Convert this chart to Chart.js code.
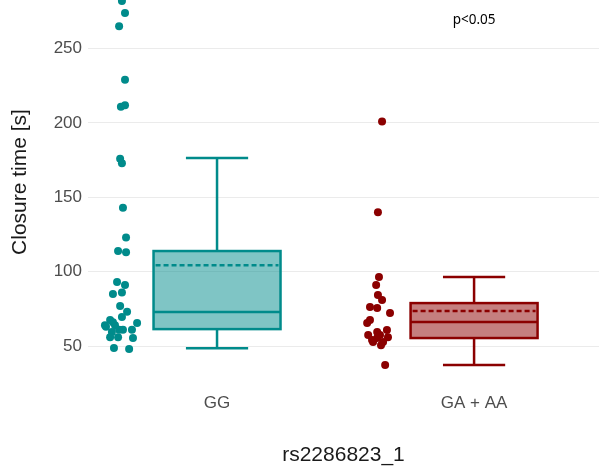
<!DOCTYPE html>
<html>
<head>
<meta charset="utf-8">
<script src="https://cdn.jsdelivr.net/npm/chart.js@4"></script>
<style>
  html, body { margin: 0; padding: 0; background: #ffffff; }
  canvas { display: block; }
</style>
</head>
<body>
<canvas id="chart" width="599" height="475"></canvas>
<script>
const CATEGORIES = ["GG", "GA + AA"];
const COLORS = ["#008b8b", "#8b0000"];
const FILLS = ["rgba(0, 139, 139, 0.5)", "rgba(139, 0, 0, 0.5)"];
const Y_TICKS = [50, 100, 150, 200, 250];

// box stats: lower whisker, q1, median, q3, upper whisker, mean
const BOX_LOW = [48.5, 37.2];
const BOX_Q1 = [61.4, 55.4];
const BOX_MEDIAN = [72.9, 66.1];
const BOX_Q3 = [113.9, 78.9];
const BOX_HIGH = [176.4, 96.4];
const BOX_MEAN = [104.3, 73.5];

// jittered points: value and horizontal offset from the category (in category units)
const GG_VALUES = [282, 274, 265, 229, 211, 212, 176, 173, 143, 123, 114, 113, 93, 91, 85, 86,
  77, 73, 69.5, 67.5, 64, 64, 65.5, 59.5, 61, 61, 56, 56, 55.4, 48.7, 48, 63, 61, 66];
const GG_JITTER = [-0.37, -0.358, -0.381, -0.358, -0.374, -0.358, -0.377, -0.37, -0.366, -0.354,
  -0.385, -0.354, -0.389, -0.358, -0.405, -0.37, -0.377, -0.35, -0.37, -0.416, -0.436, -0.397,
  -0.311, -0.409, -0.366, -0.331, -0.416, -0.385, -0.327, -0.401, -0.342, -0.432, -0.381, -0.405];
const GA_VALUES = [201, 140, 96.4, 91, 84.3, 80.9, 76.2, 75.6, 72.2, 67.5, 65.5, 59.4, 60.8,
  57.4, 57.4, 52.7, 52.7, 56, 55.4, 37.2, 54, 50.5];
const GA_JITTER = [-0.358, -0.374, -0.37, -0.381, -0.374, -0.358, -0.405, -0.377, -0.327, -0.405,
  -0.416, -0.377, -0.339, -0.412, -0.366, -0.393, -0.354, -0.335, -0.377, -0.346, -0.397, -0.362];

const P_TEXT = "p<0.05";
const P_AT = [2, 269];
const Y_TITLE = "Closure time [s]";

const BOX_HALF = 0.247;
const CAP_HALF = 0.121;

function toPoints(values, jitter, category) {
  return values.map((value, i) => ({ x: category + jitter[i], y: value }));
}

const boxPlotPlugin = {
  id: "boxPlots",
  beforeDatasetsDraw(chart) {
    const { ctx } = chart;
    const xs = chart.scales.x;
    const ys = chart.scales.y;
    CATEGORIES.forEach((name, i) => {
      const c = i + 1;
      const left = xs.getPixelForValue(c - BOX_HALF);
      const right = xs.getPixelForValue(c + BOX_HALF);
      const mid = xs.getPixelForValue(c);
      const capL = xs.getPixelForValue(c - CAP_HALF);
      const capR = xs.getPixelForValue(c + CAP_HALF);
      const q1 = ys.getPixelForValue(BOX_Q1[i]);
      const q3 = ys.getPixelForValue(BOX_Q3[i]);
      const lo = ys.getPixelForValue(BOX_LOW[i]);
      const hi = ys.getPixelForValue(BOX_HIGH[i]);
      const med = ys.getPixelForValue(BOX_MEDIAN[i]);
      const mean = ys.getPixelForValue(BOX_MEAN[i]);

      ctx.save();
      ctx.fillStyle = FILLS[i];
      ctx.fillRect(left, q3, right - left, q1 - q3);
      ctx.strokeStyle = COLORS[i];
      ctx.lineWidth = 2.5;
      ctx.beginPath();
      ctx.moveTo(mid, q3); ctx.lineTo(mid, hi);
      ctx.moveTo(mid, q1); ctx.lineTo(mid, lo);
      ctx.moveTo(capL, hi); ctx.lineTo(capR, hi);
      ctx.moveTo(capL, lo); ctx.lineTo(capR, lo);
      ctx.moveTo(left, med); ctx.lineTo(right, med);
      ctx.stroke();
      ctx.strokeRect(left, q3, right - left, q1 - q3);
      ctx.setLineDash([5, 3]);
      ctx.beginPath();
      ctx.moveTo(left + 2, mean); ctx.lineTo(right - 2, mean);
      ctx.stroke();
      ctx.restore();
    });
  },
  afterDraw(chart) {
    const { ctx } = chart;
    ctx.save();
    ctx.fillStyle = "#000000";
    ctx.font = "13.5px 'Noto Sans'";
    ctx.textAlign = "center";
    ctx.textBaseline = "middle";
    ctx.fillText(P_TEXT, chart.scales.x.getPixelForValue(P_AT[0]), chart.scales.y.getPixelForValue(P_AT[1]));

    // y title: the panel in the original runs above the cropped top, so its centre sits higher
    ctx.fillStyle = "#1a1a1a";
    ctx.font = "21px 'Liberation Sans', Arial";
    ctx.translate(20, 182);
    ctx.rotate(-Math.PI / 2);
    ctx.fillText(Y_TITLE, 0, 0);
    ctx.restore();
  },
};

new Chart(document.getElementById("chart"), {
  type: "scatter",
  data: {
    datasets: [
      {
        label: CATEGORIES[0],
        data: toPoints(GG_VALUES, GG_JITTER, 1),
        backgroundColor: COLORS[0],
        borderWidth: 0,
        pointRadius: 4,
      },
      {
        label: CATEGORIES[1],
        data: toPoints(GA_VALUES, GA_JITTER, 2),
        backgroundColor: COLORS[1],
        borderWidth: 0,
        pointRadius: 4,
      },
    ],
  },
  options: {
    responsive: false,
    animation: false,
    events: [],
    layout: { padding: 0, autoPadding: false },
    plugins: {
      legend: { display: false },
      tooltip: { enabled: false },
    },
    scales: {
      x: {
        type: "linear",
        min: 0.498,
        max: 2.486,
        afterBuildTicks: (scale) => {
          scale.ticks = CATEGORIES.map((name, i) => ({ value: i + 1 }));
        },
        afterFit: (scale) => {
          scale.height = 87;
          scale.paddingLeft = 0;
          scale.paddingRight = 0;
        },
        grid: { display: false, drawTicks: false },
        border: { display: false },
        ticks: {
          callback: (value, index) => CATEGORIES[index],
          color: "#4d4d4d",
          font: { family: "'Liberation Sans', Arial", size: 17 },
          padding: 5,
          maxRotation: 0,
          autoSkip: false,
        },
        title: {
          display: true,
          text: "rs2286823_1",
          color: "#1a1a1a",
          font: { family: "'Liberation Sans', Arial", size: 21 },
          padding: { top: 0, bottom: 7 },
        },
      },
      y: {
        min: 21.8,
        max: 282.7,
        afterBuildTicks: (scale) => {
          scale.ticks = Y_TICKS.map((value) => ({ value }));
        },
        afterFit: (scale) => {
          scale.width = 88;
          scale.paddingTop = 0;
          scale.paddingBottom = 0;
        },
        grid: { color: "#ebebeb", lineWidth: 1, drawTicks: false },
        border: { display: false },
        ticks: {
          color: "#4d4d4d",
          font: { family: "'Liberation Sans', Arial", size: 17 },
          padding: 6,
        },
      },
    },
  },
  plugins: [boxPlotPlugin],
});
</script>
</body>
</html>
